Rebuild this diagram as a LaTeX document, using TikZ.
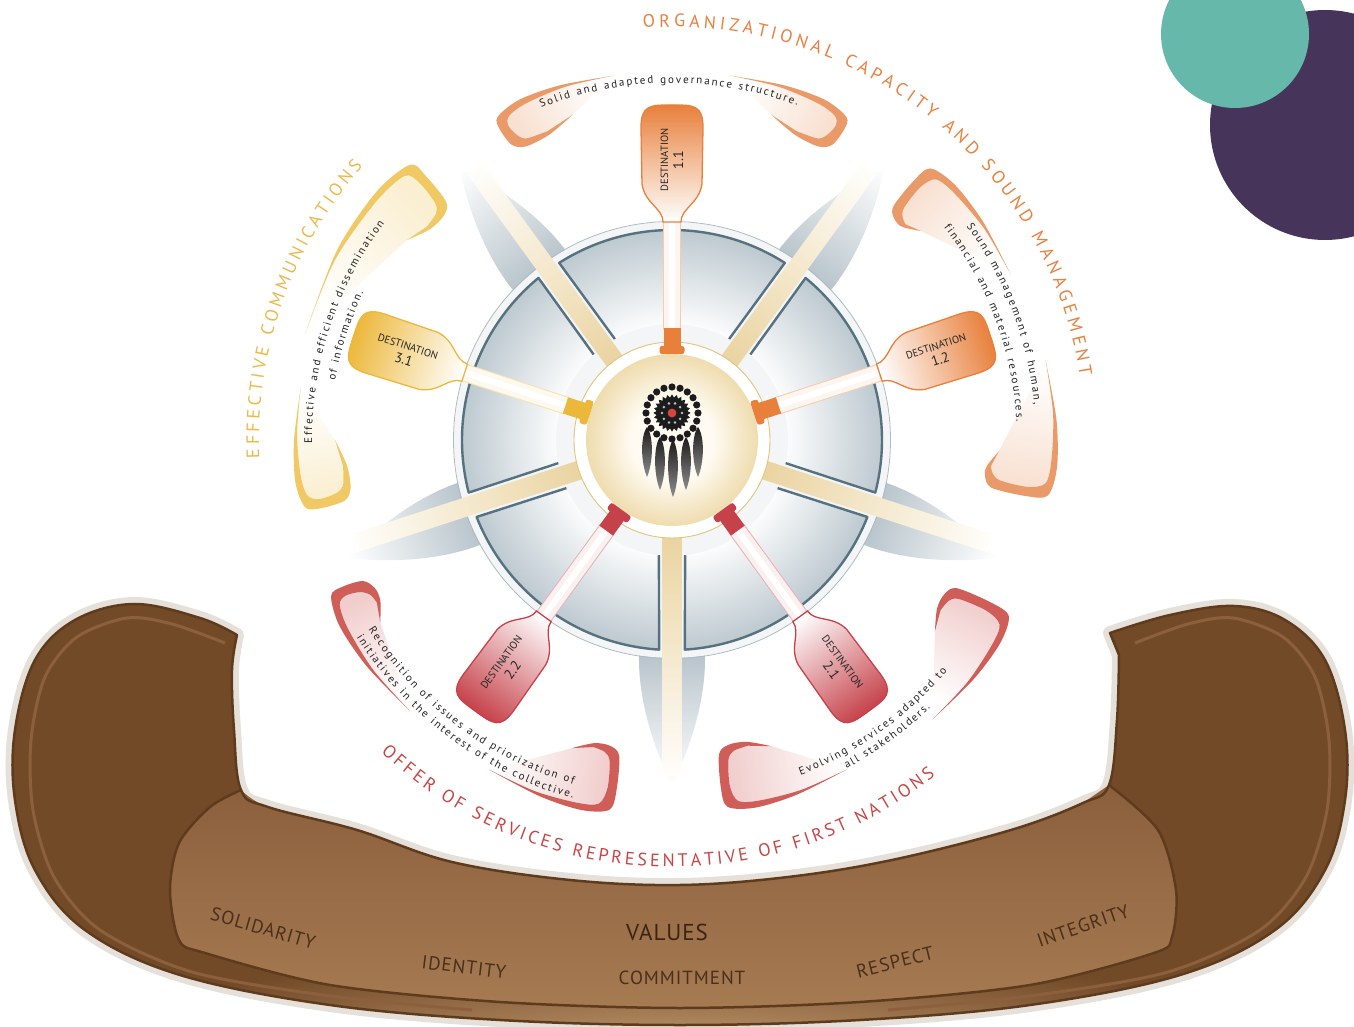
\documentclass[tikz,border=0pt]{standalone}
\usepackage{fontspec}
\setmainfont{PT Sans}
\usetikzlibrary{decorations.text}

\definecolor{purpleDot}{HTML}{46345A}
\definecolor{tealDot}{HTML}{66B8AB}
\definecolor{padOrange}{HTML}{E8803C}
\definecolor{padYellow}{HTML}{ECB83C}
\definecolor{padRed}{HTML}{C6424A}
\definecolor{curlOrange}{HTML}{EA9A68}
\definecolor{curlYellow}{HTML}{F0C965}
\definecolor{curlRed}{HTML}{CF5D58}
\definecolor{headOrange}{HTML}{E8803F}
\definecolor{headYellow}{HTML}{EAB94B}
\definecolor{headRed}{HTML}{C94545}
\definecolor{noteText}{HTML}{222222}
\definecolor{fanGray}{HTML}{8FA3AE}
\definecolor{discLight}{HTML}{F3F5F6}
\definecolor{wheelRim}{HTML}{AEBAC1}
\definecolor{wheelGray}{HTML}{BCC8CF}
\definecolor{wheelEdge}{HTML}{56717F}
\definecolor{spokeGold}{HTML}{EAD3A0}
\definecolor{spokeCream}{HTML}{FFFEFB}
\definecolor{hubRing}{HTML}{E3C47C}
\definecolor{hubCream}{HTML}{EFDCAE}
\definecolor{hubLight}{HTML}{FFFBF2}
\definecolor{catcherBlack}{HTML}{1C1C1C}
\definecolor{catcherDots}{HTML}{B9C5CC}
\definecolor{catcherRed}{HTML}{D8453D}
\definecolor{canoeBorder}{HTML}{E5E0D9}
\definecolor{canoeDark}{HTML}{734A28}
\definecolor{canoeEdge}{HTML}{5F3B1D}
\definecolor{canoeStripe}{HTML}{8C603D}
\definecolor{canoePanel}{HTML}{8B5F3C}
\definecolor{canoePanelLow}{HTML}{A67B52}
\definecolor{canoeLight}{HTML}{C09A70}
\definecolor{canoeText}{HTML}{4A2F1B}
\definecolor{valuesText}{HTML}{3A2414}

\pgfdeclareradialshading{wheelshade}{\pgfpoint{0bp}{0bp}}{color(0bp)=(white); color(13bp)=(white); color(25bp)=(wheelGray); color(50bp)=(wheelGray)}
\pgfdeclareradialshading{hubshade}{\pgfpoint{0bp}{0bp}}{color(0bp)=(hubLight); color(12bp)=(hubLight); color(25bp)=(hubCream); color(50bp)=(hubCream)}

\newcommand{\headfont}{\fontsize{18}{18}\selectfont}
\newcommand{\notefont}{\fontsize{11}{11}\selectfont}
\newcommand{\padnum}{\fontsize{14}{15}\selectfont}

\tikzset{
  padtext/.style={align=center, inner sep=0pt, text=black!85, font=\fontsize{10.5}{11}\selectfont},
  canoeword/.style={inner sep=0pt, text=canoeText, font=\fontsize{19}{20}\selectfont\addfontfeature{LetterSpace=5}},
  arctext/.style={decorate, decoration={text along path, text align=fit to path, text={#1}}},
}

% paddle along a direction
\newcommand{\drawPaddle}[2]{%
  \begin{scope}[transform canvas={rotate=#1}]
    \fill[#2!8] (110,-8.5) rectangle (222,8.5);
    \fill[white] (110,-3) rectangle (222,3);
    \draw[#2!40, line width=0.9] (110,-8.5) -- (222,-8.5) (110,8.5) -- (222,8.5);
    \shadedraw[left color=white, middle color=#2!35, right color=#2, draw=#2, line width=1.3]
      (218,-9) .. controls (232,-9) and (236,-27) .. (256,-30) -- (312,-31)
      .. controls (335,-31) and (335,-22) .. (335,0)
      .. controls (335,22) and (335,31) .. (312,31) -- (256,30)
      .. controls (236,27) and (232,9) .. (218,9) -- cycle;
    \fill[#2] (92,-8.5) rectangle (112,8.5);
    \fill[#2, rounded corners=2.5] (86,-12.5) rectangle (94,12.5);
  \end{scope}}

% grey shadow blade behind the wheel
\newcommand{\drawFan}[1]{%
  \begin{scope}[transform canvas={rotate=#1}]
    \shade[left color=fanGray, right color=white]
      (140,0) .. controls (170,46) and (260,42) .. (345,0)
      .. controls (260,-42) and (170,-46) .. (140,0) -- cycle;
  \end{scope}}

\newcommand{\drawSpoke}[1]{%
  \begin{scope}[transform canvas={rotate=#1}]
    \shade[left color=spokeGold, right color=spokeCream] (95,-9.5) rectangle (335,9.5);
  \end{scope}}

\newcommand{\drawSegment}[1]{%
  \begin{scope}
    \clip ({#1-29.5}:116) -- ({#1-32.5}:210) arc[start angle=#1-32.5, end angle=#1+32.5, radius=210]
      -- ({#1+29.5}:116) arc[start angle=#1+29.5, end angle=#1-29.5, radius=116] -- cycle;
    \shade[shading=wheelshade] (0,0) circle (212);
  \end{scope}
  \draw[wheelEdge, line width=2.4, line join=round] ({#1-29.5}:116) -- ({#1-32.5}:210)
    arc[start angle=#1-32.5, end angle=#1+32.5, radius=210] -- ({#1+29.5}:116);}

% curled end of a callout: end angle, side, outer r, inner r, hook, fade, colour
\newcommand{\drawCurl}[7]{%
  \pgfmathsetmacro\cA{#1}\pgfmathsetmacro\cS{#2}%
  \pgfmathsetmacro\cO{#3}\pgfmathsetmacro\cI{#4}%
  \pgfmathsetmacro\cH{#5}\pgfmathsetmacro\cF{#6}%
  \pgfmathsetmacro\cM{\cO-0.38*(\cO-\cI)}%
  \pgfmathsetmacro\cG{\cA-\cS*90-90}%
  \shade[top color=#7!30, middle color=white, bottom color=white, shading angle=\cG]
    plot[smooth] coordinates {({\cA+\cS*\cH}:{\cI+12}) ({\cA+\cS*\cH*0.55}:{\cI+5}) ({\cA+\cS*2.2}:{\cI+7})
      ({\cA+\cS*1.0}:{\cI+15}) ({\cA+\cS*0.5}:{\cM}) ({\cA+\cS*1.4}:{\cO-9}) ({\cA+\cS*\cF*0.25}:{\cO-5})
      ({\cA+\cS*\cF*0.6}:{\cO-3}) ({\cA+\cS*\cF}:{\cO-3})} -- cycle;
  \fill[#7]
    plot[smooth] coordinates {({\cA+\cS*\cF}:{\cO-3}) ({\cA+\cS*\cF*0.55}:{\cO}) ({\cA+\cS*\cF*0.2}:{\cO+1})
      ({\cA-\cS*0.4}:{\cO-5}) ({\cA-\cS*1.0}:{\cM}) ({\cA-\cS*0.5}:{\cI+8}) ({\cA+\cS*1.5}:{\cI})
      ({\cA+\cS*\cH*0.55}:{\cI+1}) ({\cA+\cS*\cH}:{\cI+12})}
    -- plot[smooth] coordinates {({\cA+\cS*\cH*0.55}:{\cI+5}) ({\cA+\cS*2.2}:{\cI+7}) ({\cA+\cS*1.0}:{\cI+15})
      ({\cA+\cS*0.5}:{\cM}) ({\cA+\cS*1.4}:{\cO-9}) ({\cA+\cS*\cF*0.25}:{\cO-5})
      ({\cA+\cS*\cF*0.6}:{\cO-3}) ({\cA+\cS*\cF}:{\cO-3})} -- cycle;}

\newcommand{\canoePath}{plot[smooth, tension=0.6] coordinates {(-435,-195) (-472,-178) (-538,-164) (-597,-180)
  (-637,-220) (-657,-290) (-657,-360) (-637,-430) (-587,-490) (-492,-535) (-342,-565) (-172,-580) (8,-585)
  (188,-580) (358,-565) (508,-535) (603,-490) (653,-430) (673,-360) (673,-290) (653,-220) (613,-180)
  (562,-166) (498,-175) (438,-193)}
  -- plot[smooth, tension=0.6] coordinates {(447,-215) (445,-280) (437,-345) (411,-363) (339,-390) (220,-420)
  (116,-437) (8,-445) (-102,-440) (-220,-422) (-315,-390) (-404,-367) (-431,-350) (-438,-290) (-440,-230)
  (-435,-195)} -- cycle}

\newcommand{\panelPath}{plot[smooth] coordinates {(-431,-350) (-462,-367) (-493,-403) (-502,-450) (-493,-500)
  (-467,-513) (-342,-545) (-172,-562) (8,-568) (188,-562) (358,-545) (482,-513) (500,-497) (504,-450)
  (486,-390) (437,-345)}
  -- plot[smooth] coordinates {(411,-363) (339,-390) (220,-420) (116,-437) (8,-445) (-102,-440) (-220,-422)
  (-315,-390) (-404,-367) (-431,-350)} -- cycle}

\begin{document}
\begin{tikzpicture}[x=1pt, y=1pt]
\useasboundingbox (-672,-587) rectangle (682,440);

% corner dots
\fill[purpleDot] (653,315) circle (115);
\fill[tealDot] (563,406) circle (74);

% canoe
\draw[canoeBorder, line width=14, line join=round] \canoePath;
\fill[canoeDark] \canoePath;
\begin{scope}
  \clip \canoePath;
  \shade[inner color=canoeLight, outer color=canoeDark] (8,-610) ellipse [x radius=600, y radius=100];
\end{scope}
\draw[canoeStripe, line width=3] plot[smooth] coordinates {(-447,-203) (-500,-184) (-545,-178) (-595,-197)
  (-627,-237) (-641,-300) (-639,-370) (-618,-437) (-572,-490) (-480,-532) (-342,-556) (-200,-570)};
\draw[canoeStripe, line width=3] plot[smooth] coordinates {(463,-203) (516,-184) (561,-178) (611,-197)
  (643,-237) (657,-300) (655,-370) (634,-437) (588,-490) (496,-532) (358,-556) (216,-570)};
\shade[top color=canoePanel, bottom color=canoePanelLow] \panelPath;
\draw[canoeEdge, line width=2.5] plot[smooth] coordinates {(-431,-350) (-462,-367) (-493,-403) (-502,-450)
  (-493,-500) (-467,-513) (-342,-545) (-172,-562) (8,-568) (188,-562) (358,-545) (482,-513) (500,-497)
  (504,-450) (486,-390) (437,-345)};
\draw[canoeEdge, line width=2.5, line join=round] \canoePath;

\node[canoeword, rotate=-16] (wSolidarity) at (-409,-488) {SOLIDARITY};
\node[canoeword, rotate=-7] (wIdentity) at (-208,-527) {IDENTITY};
\node[canoeword, text=valuesText, font=\fontsize{23}{24}\selectfont\addfontfeature{LetterSpace=4}] (wValues) at (-5,-492) {VALUES};
\node[canoeword] (wCommitment) at (10,-538) {COMMITMENT};
\node[canoeword, rotate=14] (wRespect) at (223,-522) {RESPECT};
\node[canoeword, rotate=19] (wIntegrity) at (411,-486) {INTEGRITY};

% wheel
\foreach \a in {52,128,200,340,270} \drawFan{\a};
\fill[discLight] (0,0) circle (218);
\draw[wheelRim, line width=0.8] (0,0) circle (218.5);
\foreach \c in {90,18,162,234,306} \drawSegment{\c};
\foreach \a in {54,126,198,270,342} \drawSpoke{\a};

% hub and dreamcatcher
\fill[white] (0,0) circle (98);
\draw[hubRing, line width=0.9] (0,0) circle (98);
\shade[shading=hubshade] (0,0) circle (86);
\foreach \fx/\ft/\fb in {-25/13/-37, -12/3/-50, 1/0/-57, 14/3/-50, 26/13/-37}
  \shade[top color=catcherBlack, bottom color=black!45] (\fx,\ft) .. controls (\fx+7,\ft-10) and (\fx+6,\fb+14) .. (\fx,\fb)
    .. controls (\fx-6,\fb+14) and (\fx-7,\ft-10) .. (\fx,\ft);
\begin{scope}[shift={(0,27)}]
  \foreach \k in {0,...,19} \fill[catcherBlack] (\k*18:26) circle (3.6);
  \fill[catcherBlack] plot[domain=0:360, samples=97, variable=\t] (\t:{17+1.6*cos(24*\t)}) -- cycle;
  \foreach \k in {0,...,9} \fill[catcherDots] (\k*36:10) circle (1.4);
  \fill[catcherRed] (0,0) circle (4.4);
\end{scope}

% callouts
\drawCurl{118}{-1}{372}{328}{11}{19}{curlOrange}
\drawCurl{62}{1}{372}{328}{11}{19}{curlOrange}
\drawCurl{46}{-1}{380}{313}{6}{20}{curlOrange}
\drawCurl{-8}{1}{385}{315}{6}{20}{curlOrange}
\drawCurl{134}{1}{385}{320}{9}{30}{curlYellow}
\drawCurl{190}{-1}{378}{325}{10}{18}{curlYellow}
\drawCurl{205}{1}{380}{332}{7}{21}{curlRed}
\drawCurl{260}{-1}{380}{312}{8}{19}{curlRed}
\drawCurl{279}{1}{376}{310}{9}{19}{curlRed}
\drawCurl{332}{-1}{385}{313}{8}{19}{curlRed}

\path[arctext={|\notefont\color{noteText}|Solid and adapted governance structure.}]
  (111.5:357) arc[start angle=111.5, end angle=69.5, radius=357];
\path[arctext={|\notefont\color{noteText}|Sound management of human,}]
  (36:364) arc[start angle=36, end angle=5.5, radius=364];
\path[arctext={|\notefont\color{noteText}|financial and material resources.}]
  (38:345) arc[start angle=38, end angle=3, radius=345];
\path[arctext={|\notefont\color{noteText}|Effective and efficient dissemination}]
  (180.5:360) arc[start angle=180.5, end angle=143, radius=360];
\path[arctext={|\notefont\color{noteText}|of information.}]
  (170:342) arc[start angle=170, end angle=154.5, radius=342];
\path[arctext={|\notefont\color{noteText}|Recognition of issues and priorization of}]
  (212:358) arc[start angle=212, end angle=254, radius=358];
\path[arctext={|\notefont\color{noteText}|initiatives in the interest of the collective.}]
  (212:372) arc[start angle=212, end angle=254.5, radius=372];
\path[arctext={|\notefont\color{noteText}|Evolving services adapted to}]
  (291:359) arc[start angle=291, end angle=320, radius=359];
\path[arctext={|\notefont\color{noteText}|all stakeholders.}]
  (298:372) arc[start angle=298, end angle=314, radius=372];

% paddles
\drawPaddle{90}{padOrange}
\drawPaddle{18}{padOrange}
\drawPaddle{162}{padYellow}
\drawPaddle{234}{padRed}
\drawPaddle{306}{padRed}
\node[padtext, rotate=90] (d11) at (90:280) {DESTINATION\\[4pt]\padnum 1.1};
\node[padtext, rotate=18] (d12) at (18:280) {DESTINATION\\[4pt]\padnum 1.2};
\node[padtext, rotate=-18] (d31) at (162:280) {DESTINATION\\[4pt]\padnum 3.1};
\node[padtext, rotate=54] (d22) at (234:280) {DESTINATION\\[4pt]\padnum 2.2};
\node[padtext, rotate=-54] (d21) at (306:280) {DESTINATION\\[4pt]\padnum 2.1};

% headings
\path[arctext={|\headfont\color{headOrange}|ORGANIZATIONAL CAPACITY AND SOUND MANAGEMENT}]
  (94:413) arc[start angle=94, end angle=9, radius=413];
\path[arctext={|\headfont\color{headYellow}|EFFECTIVE COMMUNICATIONS}]
  (182.5:413) arc[start angle=182.5, end angle=138.5, radius=413];
\path[arctext={|\headfont\color{headRed}|OFFER OF SERVICES REPRESENTATIVE OF FIRST NATIONS}]
  (227:427) arc[start angle=227, end angle=308, radius=427];
\end{tikzpicture}
\end{document}
